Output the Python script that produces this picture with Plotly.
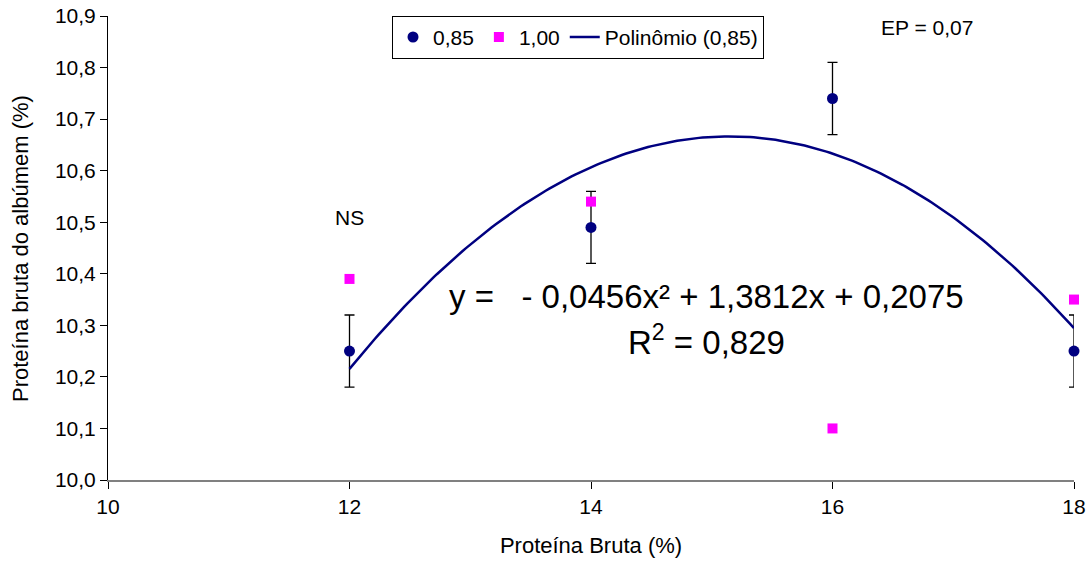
import numpy as np
import plotly.graph_objects as go

x_levels = [12, 14, 16, 18]
y_085 = [10.25, 10.49, 10.74, 10.25]
err_085 = [0.07, 0.07, 0.07, 0.07]
y_100 = [10.39, 10.54, 10.10, 10.35]
poly_coefs = [-0.0456, 1.3812, 0.2075]  # trendline shown on the chart

xs = np.linspace(12, 18, 200)
ys = np.polyval(poly_coefs, xs)

font = "Liberation Sans, Arial, sans-serif"
fig = go.Figure()
fig.add_trace(go.Scatter(
    x=x_levels, y=y_085, mode="markers", name="0,85", cliponaxis=False,
    marker=dict(symbol="circle", size=11, color="#000080"),
    error_y=dict(type="data", array=err_085, color="black", thickness=1.3, width=5),
))
fig.add_trace(go.Scatter(
    x=x_levels, y=y_100, mode="markers", name="1,00", cliponaxis=False,
    marker=dict(symbol="square", size=10, color="#FF00FF"),
))
fig.add_trace(go.Scatter(
    x=xs, y=ys, mode="lines", name="Polinômio (0,85)",
    line=dict(color="#000080", width=2.5),
))

fig.add_annotation(x=12, y=10.51, text="NS", showarrow=False, font=dict(size=21, color="black"))
fig.add_annotation(x=16.78, y=10.877, text="EP = 0,07", showarrow=False, font=dict(size=21, color="black"))
fig.add_annotation(x=14.96, y=10.355, text="y =   - 0,0456x² + 1,3812x + 0,2075", showarrow=False,
                   font=dict(size=33, color="black"))
fig.add_annotation(x=14.96, y=10.272, text="R<sup>2</sup> = 0,829", showarrow=False,
                   font=dict(size=33, color="black"))
fig.add_annotation(xref="paper", yref="paper", x=-0.0911, y=0.5, textangle=-90,
                   xanchor="center", yanchor="middle",
                   text="Proteína bruta do albúmem (%)", showarrow=False,
                   font=dict(size=22, color="black"))

fig.update_layout(
    width=1091, height=566,
    margin=dict(l=108, r=17, t=16, b=86, autoexpand=False),
    plot_bgcolor="white", paper_bgcolor="white",
    separators=",.",
    font=dict(family=font, size=21, color="black"),
    showlegend=True,
    legend=dict(orientation="h", x=0.294, y=0.954, xanchor="left", yanchor="middle",
                bordercolor="black", borderwidth=1, bgcolor="white",
                font=dict(size=21), itemwidth=30, tracegroupgap=0),
    xaxis=dict(range=[10, 18], tickvals=[10, 12, 14, 16, 18], showline=True, linecolor="#808080",
               linewidth=2, ticks="outside", ticklen=7, tickcolor="black", showgrid=False,
               zeroline=False, automargin=False,
               title=dict(text="Proteína Bruta (%)", font=dict(size=22), standoff=20),
               tickfont=dict(size=21)),
    yaxis=dict(range=[10.0, 10.9], dtick=0.1, tickformat=".1f", showline=True, linecolor="black",
               linewidth=1, ticks="outside", ticklen=7, tickcolor="black", showgrid=False,
               zeroline=False, automargin=False,
               tickfont=dict(size=21)),
)
fig.write_html("out.html")
